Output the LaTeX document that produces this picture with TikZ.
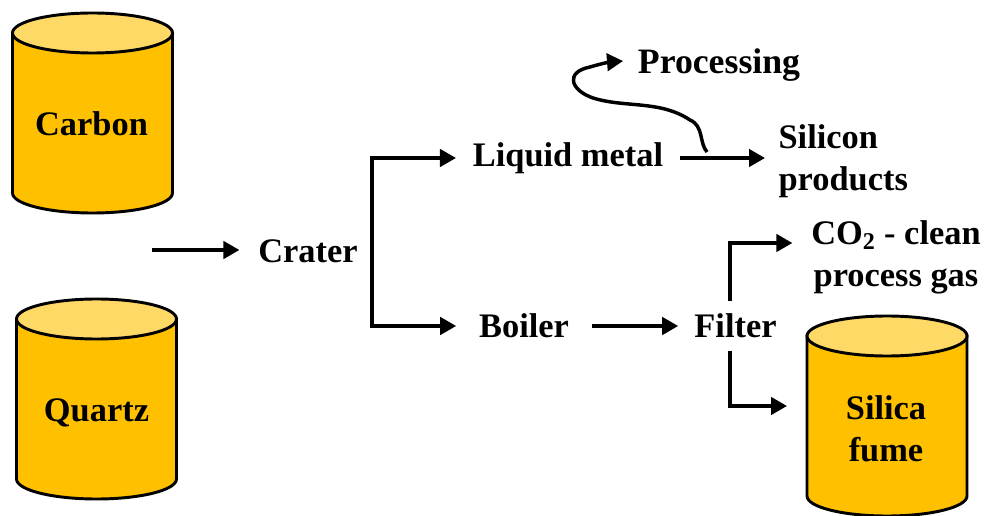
\documentclass[tikz,border=0pt]{standalone}
\usepackage{fontspec}
\setmainfont{Liberation Serif}
\usetikzlibrary{arrows.meta}
\definecolor{drum}{HTML}{FFC000}
\definecolor{drumtop}{HTML}{FFD966}
\tikzset{
  x=0.75pt,y=-0.75pt,
  tx/.style={font=\fontsize{25.8pt}{31.5pt}\selectfont\bfseries,inner ysep=0pt,text height=#1,text depth=4pt},
  multi/.style={font=\fontsize{25.8pt}{31.5pt}\selectfont\bfseries,inner ysep=0pt},
  arr/.style={line width=2.6pt,-{Triangle[length=12pt,width=13pt]}},
  drumline/.style={draw=black,line width=2.2pt},
  pics/drum/.style={code={
    \path[drumline,fill=drum] (-80,-80) -- (-80,80) arc[start angle=180,end angle=360,x radius=60pt,y radius=15pt] -- (80,-80) -- cycle;
    \path[drumline,fill=drumtop] (0,-80) ellipse [x radius=60pt,y radius=15pt];
  }}
}
\begin{document}
\begin{tikzpicture}
\useasboundingbox (0,0) rectangle (984,516);
% drums
\pic at (92.5,113) {drum};
\pic at (96.5,399) {drum};
\pic at (887,416) {drum};
\node[multi] (carbonl) at (91.5,124) {Carbon};
\node[multi] (quartzl) at (96.5,413) {Quartz};
\node[multi,align=center] (silical) at (886,429) {Silica\\fume};
% texts
\node[tx=23.5pt,inner xsep=14pt] (crater) at (308,250) {Crater};
\node[tx=17pt,inner xsep=12.5pt] (liquid) at (568,158) {Liquid metal};
\node[tx=20.5pt,inner xsep=17pt] (boiler) at (524,326) {Boiler};
\node[tx=20.5pt,inner xsep=12pt,inner ysep=6pt] (filter) at (735.5,326) {Filter};
\node[tx=23.5pt,inner xsep=11pt,font=\fontsize{26.8pt}{31.5pt}\selectfont\bfseries] (processing) at (719,61) {Processing};
\node[multi,align=left,inner xsep=10pt,anchor=west] (silicon) at (765,161) {Silicon\\products};
\node[multi,align=center,inner xsep=14pt] (co2) at (896,257) {CO\textsubscript{2} - clean\\process gas};
% junctions
\coordinate (feed) at (152,250);
\coordinate (bus) at (372,242);
\coordinate (co2in) at ([yshift=10.5pt]co2.west);
\coordinate (filterup) at ([xshift=-4pt]filter.north);
\coordinate (filterdown) at ([xshift=-4pt]filter.south);
\coordinate (silicain) at (787,406);
\coordinate (tap) at (707,152);
% connectors
\draw[arr] (feed) -- (crater.west);
\draw[arr] (bus) |- (liquid.west);
\draw[arr] (bus) |- (boiler.west);
\draw[arr] (liquid.east) -- (liquid.east -| silicon.west);
\draw[arr] (boiler.east) -- (filter.west);
\draw[arr] (filterup) |- (co2in);
\draw[arr] (filterdown) |- (silicain);
\draw[arr] (tap) .. controls (699,143) and (704,126) .. (690,120)
  .. controls (660,100) and (625,108) .. (593,98)
  .. controls (570,90) and (565,72) .. (590,67)
  .. controls (600,64) and (610,62) .. (processing.west);
\end{tikzpicture}
\end{document}
